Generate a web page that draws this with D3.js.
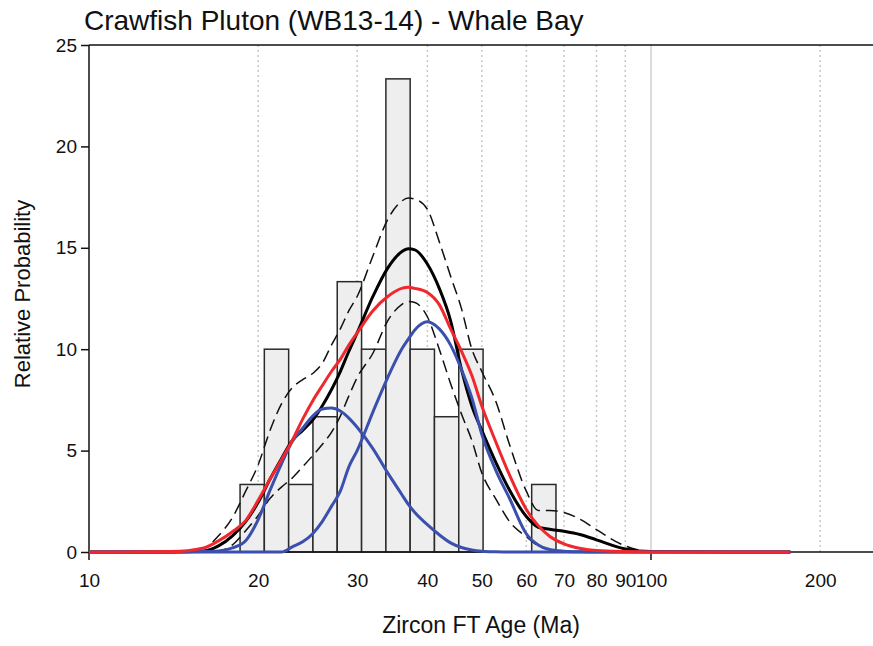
<!DOCTYPE html>
<html><head><meta charset="utf-8">
<script src="https://cdn.jsdelivr.net/npm/d3@7"></script>
<style>body{margin:0;background:#fff}text{font-family:"Liberation Sans",Arial,sans-serif;fill:#111}</style>
</head><body>
<svg id="c" width="873" height="646"></svg>
<script>
// ---- data ----
const binEdges = [18.57, 20.51, 22.66, 25.03, 27.65, 30.55, 33.75, 37.28, 41.18, 45.49, 50.26, 55.52, 61.33, 67.75];
const binHeights = [3.33, 10, 3.33, 6.67, 13.33, 10, 23.33, 10, 6.67, 10, 0, 0, 3.33];
const curveAges = [10,14,16,17,18,19,20,21,22,23,24,25,26,27,28,29,30,32,34,36,37,38,40,42,44,46,48,50,53,56,60,63,66,70,75,80,90,100,177];
const pdp      = [0,0,0.05,0.3,0.8,1.5,2.45,3.6,4.6,5.5,6.0,6.5,7.2,8.0,8.9,9.9,10.8,12.6,14.0,14.8,14.95,14.9,14.2,13.0,11.4,9.0,7.2,6.0,4.4,3.06,1.75,1.22,1.12,1.02,0.85,0.6,0.15,0.02,0];
const pdpUpper = [0,0,0.2,0.8,1.7,3.0,4.3,6.0,7.3,8.1,8.5,8.8,9.3,10.2,11.0,11.9,12.6,14.6,16.4,17.3,17.45,17.4,16.9,15.3,13.6,12.0,10.0,8.9,7.4,5.3,3.0,2.05,2.05,1.95,1.6,1.1,0.3,0.03,0];
const pdpLower = [0,0,0,0.05,0.35,1.05,1.8,2.65,3.2,3.65,4.2,4.75,5.3,5.9,6.7,7.7,8.6,9.8,11.4,12.2,12.35,12.3,11.6,10.0,8.3,6.8,5.5,3.9,2.6,1.5,0.75,0.3,0.12,0.05,0.02,0,0,0,0];
const bestFit  = [0,0.02,0.2,0.55,1.0,1.55,2.55,3.6,4.55,5.5,6.55,7.45,8.2,8.9,9.5,10.2,10.8,11.9,12.6,13.0,13.05,13.0,12.8,12.2,11.0,9.9,8.7,7.2,5.4,3.8,2.1,1.3,0.78,0.4,0.17,0.07,0.02,0.005,0];
const peak1    = [0,0,0.02,0.05,0.2,0.55,1.6,3.05,4.35,5.45,6.1,6.7,7.05,7.1,6.95,6.6,6.15,5.1,3.9,2.85,2.35,1.95,1.35,0.85,0.45,0.22,0.1,0.04,0.01,0,0,0,0,0,0,0,0,0,0];
const peak2    = [0,0,0,0,0,0,0,0,0,0.25,0.5,0.9,1.5,2.25,3.0,4.2,5.0,6.9,8.6,10.0,10.5,10.95,11.35,11.0,10.2,9.0,7.6,5.8,4.0,2.65,0.9,0.35,0.12,0.04,0.01,0,0,0,0];
const yTicks = [0,5,10,15,20,25];
const xTickLabels = [10,20,30,40,50,60,70,80,90,100,200];
const xMajorTicks = [10,100];
const gridDotted = [20,30,40,50,60,70,80,90,200];
const gridSolid = [100];

// ---- layout ----
const svg = d3.select("#c");
const L = 89, T = 45, B = 552;
const x = d3.scaleLog().domain([10, 250]).range([L, L + Math.log10(25) * 562]);
const y = d3.scaleLinear().domain([0, 25]).range([B, T]);
const R = x.range()[1];

// grid
svg.append("g").selectAll("line").data(gridDotted).join("line")
  .attr("x1", d => x(d)).attr("x2", d => x(d)).attr("y1", T).attr("y2", B)
  .attr("stroke", "#c8c8c8").attr("stroke-width", 1.5).attr("stroke-dasharray", "2,3");
svg.append("g").selectAll("line").data(gridSolid).join("line")
  .attr("x1", d => x(d)).attr("x2", d => x(d)).attr("y1", T).attr("y2", B)
  .attr("stroke", "#b8b8b8").attr("stroke-width", 1);

// histogram
const bins = binHeights.map((h, i) => ({x0: binEdges[i], x1: binEdges[i + 1], h}));
svg.append("g").selectAll("rect").data(bins.filter(b => b.h > 0)).join("rect")
  .attr("x", d => x(d.x0)).attr("width", d => x(d.x1) - x(d.x0))
  .attr("y", d => y(d.h)).attr("height", d => y(0) - y(d.h))
  .attr("fill", "#eeeeee").attr("stroke", "#2a2a2a").attr("stroke-width", 1.5);

// axes frame
const yAxis = d3.axisLeft(y).tickValues(yTicks).tickSize(8).tickPadding(4);
const gy = svg.append("g").attr("transform", `translate(${L},0)`).call(yAxis);
gy.select(".domain").remove();
gy.selectAll(".tick line").attr("stroke", "#111").attr("stroke-width", 1.5);
gy.selectAll(".tick text").attr("font-size", 19).attr("font-family", "Liberation Sans, Arial, sans-serif").attr("fill", "#111");

const xAxis = d3.axisBottom(x).tickValues(xTickLabels).tickFormat(d3.format("d")).tickSize(0).tickPadding(22);
const gx = svg.append("g").attr("transform", `translate(0,${B})`).call(xAxis);
gx.select(".domain").remove();
gx.selectAll(".tick text").attr("font-size", 19).attr("font-family", "Liberation Sans, Arial, sans-serif").attr("fill", "#111");
svg.append("g").selectAll("line").data(xMajorTicks).join("line")
  .attr("x1", d => x(d)).attr("x2", d => x(d)).attr("y1", B).attr("y2", B + 8)
  .attr("stroke", "#111").attr("stroke-width", 1.5);

svg.append("line").attr("x1", L).attr("x2", R).attr("y1", B).attr("y2", B).attr("stroke", "#111").attr("stroke-width", 1.5);
svg.append("line").attr("x1", L).attr("x2", R).attr("y1", T).attr("y2", T).attr("stroke", "#111").attr("stroke-width", 1.5);
svg.append("line").attr("x1", L).attr("x2", L).attr("y1", T).attr("y2", B).attr("stroke", "#111").attr("stroke-width", 1.5);

// curves
const line = d3.line().x(d => x(d[0])).y(d => y(d[1])).curve(d3.curveMonotoneX);
const pts = arr => curveAges.map((a, i) => [a, arr[i]]);
function draw(arr, color, w, dash) {
  svg.append("path").datum(pts(arr)).attr("d", line)
    .attr("fill", "none").attr("stroke", color).attr("stroke-width", w)
    .attr("stroke-dasharray", dash || null).attr("stroke-linejoin", "round");
}
draw(pdpUpper, "#111", 1.5, "12,6");
draw(pdpLower, "#111", 1.5, "12,6");
draw(pdp, "#000", 3);
draw(peak1, "#3b4fae", 3);
draw(peak2, "#3b4fae", 3);
draw(bestFit, "#f0282d", 3);

// text
svg.append("text").attr("x", 84).attr("y", 30).attr("font-size", 28).text("Crawfish Pluton (WB13-14) - Whale Bay");
svg.append("text").attr("x", 481).attr("y", 633).attr("text-anchor", "middle").attr("font-size", 23).text("Zircon FT Age (Ma)");
svg.append("text").attr("transform", "translate(30,294) rotate(-90)").attr("text-anchor", "middle").attr("font-size", 22).text("Relative Probability");
</script>
</body></html>
